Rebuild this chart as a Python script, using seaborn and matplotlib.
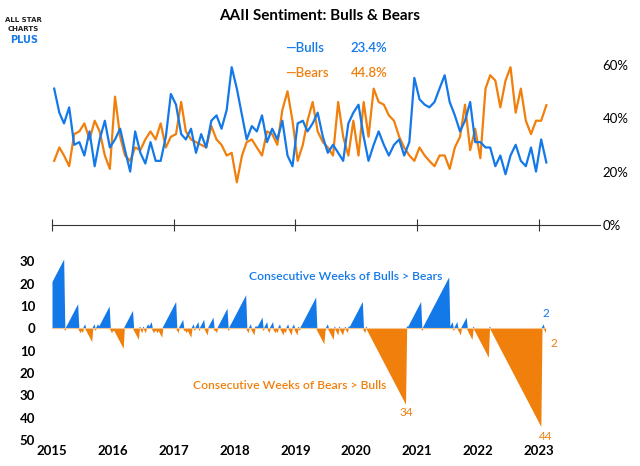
import numpy as np
import pandas as pd
import matplotlib
matplotlib.use("Agg")
import matplotlib.pyplot as plt
import seaborn as sns

BLUE = "#1479e8"
ORANGE = "#f07f0c"
FONT = "Lato"

# Monthly readings (%), Jan 2015 .. Feb 2023
bulls = [51, 42, 38, 44, 30, 31, 26, 35, 22, 32, 39, 29,
         32, 36, 28, 20, 35, 27, 23, 31, 24, 24, 33, 49,
         45, 34, 32, 36, 27, 34, 29, 39, 41, 36, 43, 59,
         51, 41, 32, 37, 35, 41, 31, 36, 32, 39, 26, 22,
         38, 39, 35, 38, 42, 33, 27, 30, 27, 24, 38, 42,
         45, 33, 24, 30, 35, 30, 26, 30, 32, 26, 31, 55,
         47, 45, 44, 46, 51, 56, 46, 41, 35, 39, 46, 31,
         31, 29, 29, 22, 26, 19, 26, 30, 24, 22, 29, 20,
         32, 23.4]
bears = [24, 29, 26, 22, 34, 35, 38, 32, 39, 35, 26, 21,
         48, 33, 26, 24, 29, 28, 32, 35, 32, 38, 29, 33,
         34, 46, 35, 32, 31, 30, 29, 37, 32, 30, 26, 27,
         16, 26, 31, 32, 29, 26, 35, 34, 30, 43, 50, 39,
         24, 30, 39, 46, 35, 31, 29, 26, 46, 33, 26, 39,
         26, 46, 33, 51, 46, 45, 41, 39, 33, 29, 26, 24,
         29, 26, 24, 22, 26, 26, 21, 29, 33, 45, 28, 36,
         25, 51, 56, 54, 44, 54, 59, 42, 51, 39, 34, 39,
         39, 44.8]
month_dates = pd.date_range("2015-01-01", periods=len(bulls), freq="MS") + pd.Timedelta(days=14)

# Consecutive-week runs (+ bulls > bears, - bears > bulls)
runs = [11, -1, 11, -2, -2, 2, -6, 2, -1, 2, 10,
        -2, -1, -9, 8, -5, 1, -2, 1, -2, 2, 3, -2, -1, -2, -4, 12,
        -2, 4, -1, -2, -4, 2, -1, 3, -1, 4, -3, 5, -1, -2, 9, -1, 15,
        -2, 2, -3, 1, 1, 5, -1, 3, -2, 3, -2, -2, 2, -3, -2, 2, -3, 2, -3, 1, -1, 14,
        -7, -1, 2, -5, 1, -3, 1, -3, -1, 1, -2, 1, 12,
        -2, 1, -34, 1, 12, -1, 23,
        3, -1, 3, -3, 5, -5, 1, -13, 1, -44, 2, -2]
first_run_offset = 20

counts = []
for i, r in enumerate(runs):
    off = first_run_offset if i == 0 else 0
    s = 1 if r > 0 else -1
    counts += [s * (off + k) for k in range(1, abs(r) + 1)]
counts = np.array(counts, dtype=float)
week_dates = pd.date_range(start="2015-01-02", periods=len(counts), freq="7D")

fig = plt.figure(figsize=(6.4, 4.66), dpi=100)
ax1 = fig.add_axes([0.081, 0.517, 0.856, 0.356])
ax2 = fig.add_axes([0.081, 0.056, 0.856, 0.393])

df = pd.DataFrame({"date": list(month_dates) * 2, "val": bulls + bears,
                   "s": ["Bulls"] * len(bulls) + ["Bears"] * len(bears)})
sns.lineplot(data=df, x="date", y="val", hue="s", palette={"Bulls": BLUE, "Bears": ORANGE},
             hue_order=["Bears", "Bulls"], ax=ax1, legend=False, linewidth=1.6)
xmin, xmax = pd.Timestamp("2015-01-01"), pd.Timestamp("2024-01-01")
ax1.set_xlim(xmin, xmax)
ax1.set_ylim(0, 62)
for sp in ["top", "left", "right"]:
    ax1.spines[sp].set_visible(False)
ax1.spines["bottom"].set_color("#333333")
ax1.set_xticks(pd.to_datetime([f"{y}-01-01" for y in range(2015, 2024, 2)]))
ax1.tick_params(axis="x", direction="inout", length=9, labelbottom=False, color="#333333")
ax1.yaxis.tick_right()
ax1.set_yticks([0, 20, 40, 60])
ax1.set_yticklabels(["0%", "20%", "40%", "60%"], fontsize=9.5, fontfamily=FONT)
ax1.tick_params(axis="y", length=0, pad=2)
ax1.set_xlabel("")
ax1.set_ylabel("")

pos = np.clip(counts, 0, None)
neg = np.clip(counts, None, 0)
ax2.fill_between(week_dates, 0, pos, color=BLUE, linewidth=0)
ax2.fill_between(week_dates, 0, neg, color=ORANGE, linewidth=0)
ax2.axhline(0, color="#f5c48f", linewidth=0.8, xmax=0.9)
ax2.set_xlim(xmin, xmax)
ax2.set_ylim(-50, 32)
for sp in ax2.spines.values():
    sp.set_visible(False)
yt = [30, 20, 10, 0, -10, -20, -30, -40, -50]
ax2.set_yticks(yt)
ax2.set_yticklabels([str(abs(v)) for v in yt], fontsize=9.5, fontweight="bold", fontfamily=FONT)
ax2.set_xticks(pd.to_datetime([f"{y}-01-01" for y in range(2015, 2024)]))
ax2.set_xticklabels([str(y) for y in range(2015, 2024)], fontsize=9.5, fontweight="bold", fontfamily=FONT)
ax2.tick_params(length=0)
ax2.tick_params(axis="y", pad=12)

ax2.text(pd.Timestamp("2019-11-01"), 23, "Consecutive Weeks of Bulls > Bears", color=BLUE,
         fontsize=8.7, ha="center", va="center", fontfamily=FONT, fontweight="semibold")
ax2.text(pd.Timestamp("2018-12-01"), -25.5, "Consecutive Weeks of Bears > Bulls", color=ORANGE,
         fontsize=8.7, ha="center", va="center", fontfamily=FONT, fontweight="semibold")
ax2.text(pd.Timestamp("2020-10-25"), -39.5, "34", color=ORANGE, fontsize=8.5, ha="center", fontfamily=FONT)
ax2.text(pd.Timestamp("2023-02-10"), -50, "44", color=ORANGE, fontsize=8.5, ha="center", fontfamily=FONT)
ax2.text(pd.Timestamp("2023-02-15"), 5, "2", color=BLUE, fontsize=8.5, ha="center", fontfamily=FONT)
ax2.text(pd.Timestamp("2023-04-01"), -8.5, "2", color=ORANGE, fontsize=8.5, ha="center", fontfamily=FONT)

fig.text(0.5, 0.965, "AAII Sentiment: Bulls & Bears", ha="center", va="center",
         fontsize=11, fontweight="bold", fontfamily=FONT)
fig.text(0.445, 0.898, "—Bulls", color=BLUE, fontsize=9.5, ha="left", va="center", fontfamily=FONT, fontweight="semibold")
fig.text(0.548, 0.898, "23.4%", color=BLUE, fontsize=9.5, ha="left", va="center", fontfamily=FONT, fontweight="semibold")
fig.text(0.445, 0.843, "—Bears", color=ORANGE, fontsize=9.5, ha="left", va="center", fontfamily=FONT, fontweight="semibold")
fig.text(0.548, 0.843, "44.8%", color=ORANGE, fontsize=9.5, ha="left", va="center", fontfamily=FONT, fontweight="semibold")

fig.text(0.037, 0.957, "ALL STAR", fontsize=5, fontweight="bold", ha="center", va="center", color="#222")
fig.text(0.037, 0.937, "CHARTS", fontsize=5, fontweight="bold", ha="center", va="center", color="#222")
fig.text(0.037, 0.914, "PLUS", fontsize=7, fontweight="bold", ha="center", va="center", color="#1a7be8")

fig.savefig("out.png", dpi=100)
